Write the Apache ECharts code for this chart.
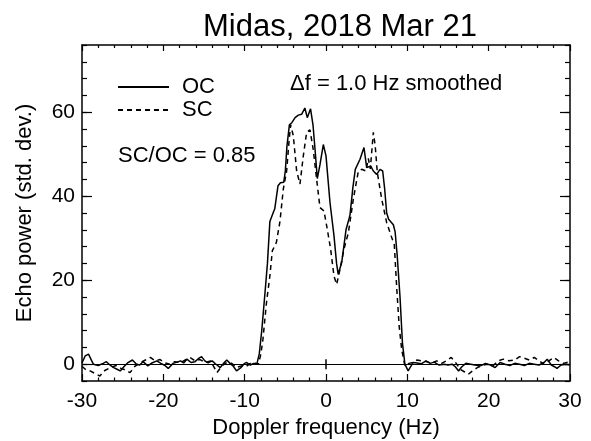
<!DOCTYPE html>
<html>
<head>
<meta charset="utf-8">
<script src="https://cdn.jsdelivr.net/npm/echarts@6/dist/echarts.min.js"></script>
<style>
  html, body { margin: 0; padding: 0; background: #fff; }
  #main { width: 591px; height: 441px; }
</style>
</head>
<body>
<div id="main"></div>
<script>
// ---- data ----
const FONT = 'Liberation Sans';

const ocFreq = [
  -30.0, -29.6, -29.2, -28.8, -28.6, -28.0, -27.4, -27.0, -26.5, -26.1, -25.7, -25.3,
  -24.8, -24.4, -23.8, -23.3, -22.9, -22.5, -21.9, -21.4, -20.8, -20.3, -19.8, -19.4,
  -18.8, -18.3, -17.9, -17.5, -17.1, -16.6, -16.1, -15.7, -15.3, -14.9, -14.5, -14.0,
  -13.6, -13.0, -12.6, -12.2, -11.8, -11.4, -11.0, -10.5, -10.0, -9.75, -9.3, -8.9,
  -8.5, -8.2, -7.9, -7.5, -7.2, -6.9, -6.6, -6.3, -5.9, -5.6, -5.2, -5.0, -4.8, -4.5,
  -4.2, -3.8, -3.4, -3.0, -2.6, -2.3, -1.9, -1.6, -1.3, -1.07, -0.74, -0.33, 0.0, 0.49,
  0.98, 1.3, 1.5, 1.93, 2.46, 2.95, 3.3, 3.6, 4.18, 4.67, 5.0, 5.49, 5.82, 6.23, 6.64,
  6.97, 7.2, 7.46, 7.7, 8.28, 8.5, 8.75, 9.1, 9.4, 9.7, 10.1, 10.5, 10.7, 11.2, 11.7,
  12.3, 12.8, 13.3, 13.9, 14.5, 15.0, 15.5, 15.9, 16.3, 16.7, 17.2, 17.8, 18.3, 19.0,
  19.6, 20.2, 20.8, 21.4, 22.0, 22.6, 23.2, 23.8, 24.4, 25.0, 25.6, 26.2, 26.8, 27.2,
  27.7, 28.1, 28.4, 28.9, 29.5, 30.0
];
const ocPower = [
  0.3, 2.0, 2.4, 0.8, 0.0, -0.3, 0.2, 0.6, -0.3, -0.8, -1.2, -1.6,
  -0.5, 0.3, 1.0, 0.0, -0.2, 0.6, -0.4, 0.3, 0.8, 0.2, -0.3, -1.0,
  0.2, 0.5, 0.8, 0.3, 1.2, 0.4, 0.6, 1.3, 1.8, 0.8, 0.3, 0.8,
  0.1, -0.8, 0.2, 1.0, 0.2, -0.5, -1.6, -0.9, 0.2, 0.4, -0.2, 0.2,
  0.0, 2.5, 8.0, 17.0, 24.0, 34.0, 35.5, 37.0, 42.5, 43.2, 43.3, 46.0, 52.0, 57.0,
  57.5, 58.7, 59.3, 59.5, 61.0, 58.7, 60.8, 57.0, 50.0, 44.2, 47.5, 52.3, 49.6, 38.5,
  30.6, 24.0, 21.4, 24.2, 32.0, 35.5, 42.0, 46.4, 48.8, 51.6, 46.8, 47.2, 46.0, 45.2, 46.4,
  46.0, 42.0, 36.0, 34.5, 33.2, 31.5, 26.0, 16.0, 5.0, 0.0, -1.6, -0.3, 0.4, 0.3, 0.1,
  0.8, 0.2, 0.5, -0.2, 0.0, -0.2, 0.0, -0.6, -1.6, -0.6, 0.2, 0.0, -0.2, -0.4,
  0.2, -0.2, -0.8, 0.4, 0.0, -0.3, 0.2, 0.0, -0.3, 0.2, 0.0, -0.2, 0.4, 1.2,
  -0.2, -0.6, -1.0, -0.2, 0.0, -0.2
];

const scFreq = [
  -30.0, -29.6, -29.0, -28.4, -27.8, -27.2, -26.5, -25.8, -25.2, -24.6, -24.1, -23.5,
  -22.8, -22.2, -21.6, -21.0, -20.4, -19.8, -19.2, -18.6, -17.9, -17.3, -16.7, -16.1,
  -15.5, -14.8, -14.2, -13.8, -13.4, -12.8, -12.2, -11.6, -11.0, -10.4, -9.8, -9.2,
  -8.6, -8.3, -8.0, -7.75, -7.3, -6.9, -6.6, -6.1, -5.66, -5.25, -4.84, -4.55, -4.35,
  -4.02, -3.61, -3.2, -2.79, -2.38, -1.97, -1.56, -1.15, -0.74, -0.25, 0.16, 0.57, 0.98,
  1.31, 1.72, 2.21, 2.75, 3.36, 3.98, 4.39, 4.92, 5.2, 5.45, 5.82, 6.05, 6.31, 6.85,
  7.46, 8.07, 8.4, 8.7, 9.0, 9.3, 9.7, 10.2, 10.7, 11.2, 11.8, 12.4, 13.0, 13.6, 14.2,
  14.8, 15.4, 15.9, 16.5, 17.0, 17.5, 18.0, 18.6, 19.2, 19.8, 20.5, 21.2, 21.8, 22.5,
  23.2, 23.8, 24.4, 25.0, 25.6, 26.2, 26.8, 27.4, 28.0, 28.6, 29.2, 30.0
];
const scPower = [
  -0.5, -1.2, -1.6, -2.2, -2.8, -1.5, -0.8, -0.3, -1.0, -1.4, -2.0, -0.5,
  0.4, 1.0, 1.6, 0.8, 1.1, 0.3, 0.0, 0.6, 0.4, 1.0, 1.6, 0.8,
  1.1, 0.4, 0.8, -0.6, -2.0, -0.4, 0.4, 0.2, -0.8, -0.4, -0.5, 0.3,
  0.2, 0.0, 2.5, 6.0, 15.0, 21.0, 27.0, 29.0, 34.0, 41.7, 46.0, 53.0, 57.0,
  54.4, 46.0, 42.9, 49.6, 55.2, 55.8, 51.0, 44.0, 37.3, 36.5, 32.1, 27.4, 21.0,
  19.0, 22.6, 27.4, 31.3, 39.3, 46.0, 46.4, 46.0, 49.0, 46.5, 55.2, 52.0, 45.6, 39.3,
  33.7, 30.2, 28.4, 18.0, 9.0, 3.6, -0.4, 0.2, 0.4, 1.0, 0.8, 0.6, 0.2, 0.8, 0.2,
  0.8, 1.6, 0.5, -1.2, -1.8, -2.4, -1.6, -0.8, -0.3, 0.0, -0.4, 0.8, 1.2, 0.8,
  1.0, 1.8, 1.4, 1.0, 1.6, 0.8, 0.0, 0.8, 1.6, 0.8, 0.2, 0.6
];

const yMajorTicks = [0, 20, 40, 60];
const titleText = 'Midas, 2018 Mar 21';
const noteText = '\u0394f = 1.0 Hz smoothed';
const ratioText = 'SC/OC = 0.85';

// ---- chart ----
const chart = echarts.init(document.getElementById('main'), null, { renderer: 'canvas' });

const pairs = (xs, ys) => xs.map((x, i) => [x, ys[i]]);
const axisLine = { show: true, onZero: false, lineStyle: { color: '#000', width: 1.5 } };

// x axes: bottom with labels, top mirror
function xAxis(pos, tickLen, showLabel) {
  return {
    type: 'value', position: pos, min: -30, max: 30, interval: 10,
    axisLine,
    axisTick: { show: true, inside: true, length: tickLen, lineStyle: { color: '#000', width: 1.2 } },
    minorTick: { show: true, splitNumber: 5, length: tickLen / 2, lineStyle: { color: '#000', width: 1.2 } },
    splitLine: { show: false }, minorSplitLine: { show: false },
    axisLabel: { show: showLabel, color: '#000', fontFamily: FONT, fontSize: 21, margin: 10 },
  };
}

// y axes: minor ticks every 4 and major ticks at 0/20/40/60 as separate axes
function yMinor(pos) {
  return {
    type: 'value', position: pos, min: -4, max: 76, interval: 4,
    axisLine,
    axisTick: { show: true, inside: true, length: 5, lineStyle: { color: '#000', width: 1.2 } },
    splitLine: { show: false },
    axisLabel: { show: false },
  };
}
function yMajor(pos, showLabel) {
  return {
    type: 'value', position: pos, min: -4, max: 76,
    axisLine: { show: false, onZero: false },
    axisTick: { show: true, inside: true, length: 10, customValues: yMajorTicks, lineStyle: { color: '#000', width: 1.2 } },
    splitLine: { show: false },
    axisLabel: { show: showLabel, customValues: yMajorTicks, color: '#000', fontFamily: FONT, fontSize: 21, margin: 7 },
  };
}

const xBottom = xAxis('bottom', 7, true);
xBottom.name = 'Doppler frequency (Hz)';
xBottom.nameLocation = 'middle';
xBottom.nameGap = 33;
xBottom.nameTextStyle = { color: '#000', fontFamily: FONT, fontSize: 22 };

const yLeft = yMajor('left', true);
yLeft.name = 'Echo power (std. dev.)';
yLeft.nameLocation = 'middle';
yLeft.nameGap = 46;
yLeft.nameTextStyle = { color: '#000', fontFamily: FONT, fontSize: 22 };

const option = {
  animation: false,
  backgroundColor: '#fff',
  textStyle: { fontFamily: FONT, color: '#000' },
  title: [
    { text: titleText, left: 203, top: 12, padding: 0, textStyle: { fontFamily: FONT, fontSize: 31, fontWeight: 'normal', color: '#000' } },
    { text: noteText, left: 290, top: 73, padding: 0, textStyle: { fontFamily: FONT, fontSize: 22, fontWeight: 'normal', color: '#000' } },
    { text: ratioText, left: 118, top: 145, padding: 0, textStyle: { fontFamily: FONT, fontSize: 22, fontWeight: 'normal', color: '#000' } },
  ],
  legend: {
    orient: 'vertical', left: 117, top: 76, padding: 0, itemGap: 1,
    itemWidth: 51, itemHeight: 14,
    itemStyle: { opacity: 0 },
    textStyle: { fontFamily: FONT, fontSize: 22, color: '#000', lineHeight: 22, padding: [0, 0, 0, 8] },
    data: ['OC', 'SC'],
  },
  grid: { left: 82, right: 21, top: 45, bottom: 60, outerBoundsMode: 'none', containLabel: false },
  xAxis: [xBottom, xAxis('top', 6, false)],
  yAxis: [yMinor('left'), yLeft, yMinor('right'), yMajor('right', false)],
  series: [
    {
      name: 'OC', type: 'line', xAxisIndex: 0, yAxisIndex: 0,
      data: pairs(ocFreq, ocPower), symbol: 'none', smooth: false,
      lineStyle: { color: '#000', width: 1.5, type: 'solid' },
      itemStyle: { color: '#000' },
      markLine: {
        silent: true, symbol: 'none', label: { show: false },
        lineStyle: { color: '#000', width: 1.2, type: 'solid' },
        data: [{ yAxis: 0 }],
      },
      markPoint: {
        silent: true, symbol: 'rect', symbolSize: [1.5, 10], label: { show: false },
        itemStyle: { color: '#000' },
        data: [{ coord: [0, 0] }],
      },
    },
    {
      name: 'SC', type: 'line', xAxisIndex: 0, yAxisIndex: 0,
      data: pairs(scFreq, scPower), symbol: 'none', smooth: false,
      lineStyle: { color: '#000', width: 1.5, type: [5, 4] },
      itemStyle: { color: '#000' },
    },
  ],
};

chart.setOption(option);
</script>
</body>
</html>
